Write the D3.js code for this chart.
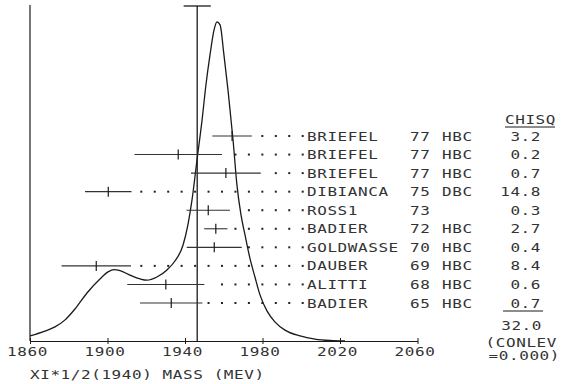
<!DOCTYPE html>
<html><head><meta charset="utf-8">
<script src="https://cdn.jsdelivr.net/npm/d3@7"></script>
<style>body{margin:0;background:#fff}</style>
</head><body>
<svg id="c" width="561" height="384"></svg>
<script>
// ---- data ----
const names = ["BRIEFEL","BRIEFEL","BRIEFEL","DIBIANCA","ROSS1","BADIER","GOLDWASSE","DAUBER","ALITTI","BADIER"];
const years = ["77","77","77","75","73","72","70","69","68","65"];
const detectors = ["HBC","HBC","HBC","DBC","","HBC","HBC","HBC","HBC","HBC"];
const masses = [1964.3,1936.5,1961.1,1900.4,1952.0,1955.9,1955.1,1894.2,1930.1,1932.9];
const errors = [10.2,22.6,18.0,12.0,11.2,6.0,14.2,17.9,19.9,16.1];
const chisq = ["3.2","0.2","0.7","14.8","0.3","2.7","0.4","8.4","0.6","0.7"];
const chisqHeader = "CHISQ";
const chisqTotal = "32.0";
const conlevLines = ["(CONLEV", "=0.000)"];
const meanMass = 1946.3, meanErr = 7.0;
const curveMass  = [1860,1867.7,1872.9,1878.1,1883.2,1889.4,1896.1,1900.3,1903.4,1906.5,1911.6,1916.8,1920.4,1925.5,1930.7,1934.8,1939.0,1941.5,1943.6,1946.2,1948.8,1950.8,1952.9,1955.0,1956.5,1958.1,1960.1,1962.2,1964.8,1966.8,1968.9,1971.0,1973.5,1976.1,1978.7,1982.3,1986.5,1991.6,1999.4,2007.1,2014.8,2022.6];
const curveValue = [0.016,0.031,0.044,0.066,0.100,0.150,0.194,0.216,0.223,0.220,0.206,0.194,0.190,0.200,0.222,0.250,0.300,0.363,0.440,0.566,0.690,0.800,0.894,0.972,0.997,0.988,0.894,0.784,0.628,0.488,0.394,0.331,0.259,0.200,0.144,0.094,0.059,0.034,0.016,0.006,0.0015,0];
const xTicks = [1860,1900,1940,1980,2020,2060];
const xTitle = "XI*1/2(1940) MASS (MEV)";

// ---- layout ----
const svg = d3.select("#c");
const ink = "#1a1a1a";
const textInk = "#333";
const x = d3.scaleLinear().domain([1860,2060]).range([30,417.5]);
const y = d3.scaleLinear().domain([0,1]).range([341,21]);
const row = d3.scalePoint().domain(d3.range(names.length)).range([136,303]);

function txt(s, px, py, anchor){
  svg.append("text")
    .attr("transform", `translate(${px},${py}) scale(1.3,1)`)
    .attr("text-anchor", anchor || "start")
    .attr("font-family", "DejaVu Sans Mono, monospace")
    .attr("font-size", 12.3)
    .attr("letter-spacing", 0.45)
    .attr("fill", textInk)
    .text(s);
}

// left vertical frame line
svg.append("line").attr("x1",x(1860)).attr("x2",x(1860)).attr("y1",5).attr("y2",y(0))
  .attr("stroke",ink).attr("stroke-width",1.2);

// x axis
const ax = svg.append("g").attr("transform",`translate(0,${y(0)})`)
  .call(d3.axisBottom(x).tickValues(xTicks).tickSizeOuter(0).tickFormat(""));
ax.select(".domain").attr("stroke",ink).attr("stroke-width",1.1);
ax.selectAll(".tick line").attr("y1",-3).attr("y2",3).attr("stroke",ink);
xTicks.forEach(t => txt(String(t), x(t)-2.5, 356, "middle"));
txt(xTitle, 30, 378.5, "start");

// ideogram curve
svg.append("path")
  .datum(curveMass.map((m,i)=>[m,curveValue[i]]))
  .attr("fill","none").attr("stroke",ink).attr("stroke-width",1.3)
  .attr("d", d3.line().x(d=>x(d[0])).y(d=>y(d[1])).curve(d3.curveMonotoneX));

// weighted mean line with error cap
svg.append("line").attr("x1",x(meanMass)).attr("x2",x(meanMass)).attr("y1",6).attr("y2",y(0))
  .attr("stroke",ink).attr("stroke-width",1.3);
svg.append("line").attr("x1",x(meanMass-meanErr)).attr("x2",x(meanMass+meanErr)).attr("y1",6).attr("y2",6)
  .attr("stroke",ink).attr("stroke-width",1.3);

// rows
const dotStart = 302.7, dotStep = 13.45;
names.forEach((n,i)=>{
  const ry = row(i);
  const m = masses[i], e = errors[i];
  svg.append("line").attr("x1",x(m-e)).attr("x2",x(m+e)).attr("y1",ry).attr("y2",ry)
    .attr("stroke","#333").attr("stroke-width",1.1);
  svg.append("line").attr("x1",x(m)).attr("x2",x(m)).attr("y1",ry-5).attr("y2",ry+5)
    .attr("stroke",ink).attr("stroke-width",1.2);
  const end = x(m+e);
  for (let dx = dotStart; dx > end + 6; dx -= dotStep) {
    svg.append("rect").attr("x",dx-1).attr("y",ry-1).attr("width",2).attr("height",2).attr("fill","#222");
  }
  txt(n, 307, ry+4.5);
  txt(years[i], 410, ry+4.5);
  if (detectors[i]) txt(detectors[i], 442, ry+4.5);
  txt(chisq[i], 541, ry+4.5, "end");
});

// chisq column decorations
txt(chisqHeader, 505, 123.5);
svg.append("line").attr("x1",505).attr("x2",555).attr("y1",127).attr("y2",127).attr("stroke",ink).attr("stroke-width",1.1);
svg.append("line").attr("x1",503).attr("x2",543).attr("y1",311).attr("y2",311).attr("stroke",ink).attr("stroke-width",1.1);
txt(chisqTotal, 542, 329.5, "end");
txt(conlevLines[0], 557, 346.5, "end");
txt(conlevLines[1], 560, 359.5, "end");
</script>
</body></html>
